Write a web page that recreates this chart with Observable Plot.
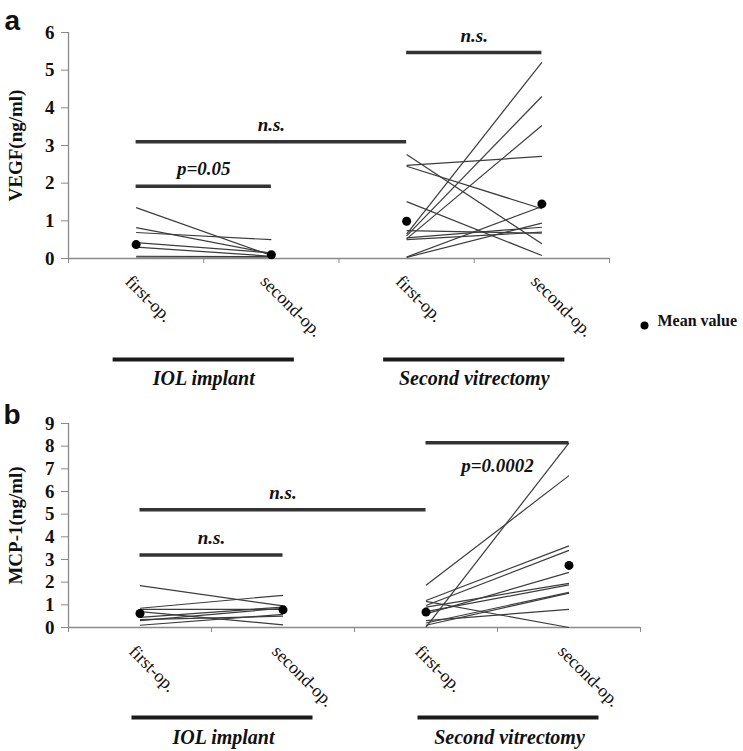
<!DOCTYPE html>
<html><head><meta charset="utf-8">
<script src="https://cdn.jsdelivr.net/npm/d3@7"></script>
<script src="https://cdn.jsdelivr.net/npm/@observablehq/plot@0.6"></script>
<style>body{margin:0;background:#fff;width:743px;height:751px;overflow:hidden} svg{display:block}</style>
</head><body><div id="chart"></div>
<script>
// ---------- data ----------
const categories = ["IOL first-op.", "IOL second-op.", "SV first-op.", "SV second-op."];
const categoryLabels = ["first-op.", "second-op.", "first-op.", "second-op."];
const groupNames = ["IOL implant", "Second vitrectomy"];
const groupFirst = ["IOL first-op.", "SV first-op."];
const groupSecond = ["IOL second-op.", "SV second-op."];

// Panel a: VEGF (ng/ml)
const vegfTicks = [0, 1, 2, 3, 4, 5, 6];
const vegfIolFirst  = [1.35, 0.82, 0.69, 0.42, 0.30, 0.06, 0.04];
const vegfIolSecond = [0.08, 0.13, 0.50, 0.15, 0.06, 0.05, 0.04];
const vegfSvFirst   = [0.65, 0.60, 0.52, 2.47, 2.76, 2.45, 1.51, 0.04, 0.03, 0.55, 0.50, 0.74];
const vegfSvSecond  = [5.21, 4.30, 3.53, 2.71, 0.39, 1.32, 0.08, 1.38, 0.94, 0.83, 0.70, 0.67];
const vegfMeans     = [0.37, 0.10, 0.99, 1.45];
const vegfSigFrom   = ["IOL first-op.", "IOL first-op.", "SV first-op."];
const vegfSigTo     = ["IOL second-op.", "SV first-op.", "SV second-op."];
const vegfSigLevel  = [1.92, 3.10, 5.47];
const vegfSigText   = ["p=0.05", "n.s.", "n.s."];
const vegfSigBelow  = [false, false, false];

// Panel b: MCP-1 (ng/ml)
const mcpTicks = [0, 1, 2, 3, 4, 5, 6, 7, 8, 9];
const mcpIolFirst  = [1.85, 0.85, 0.80, 0.70, 0.45, 0.35, 0.10, 0.30];
const mcpIolSecond = [0.95, 1.42, 0.80, 0.12, 0.90, 0.50, 0.58, 0.85];
const mcpSvFirst   = [0.02, 1.86, 1.19, 0.97, 0.60, 0.90, 0.70, 0.20, 0.30, 1.15, 0.10];
const mcpSvSecond  = [8.15, 6.70, 3.60, 3.40, 2.43, 1.95, 1.88, 1.55, 0.80, 0.00, 1.52];
const mcpMeans     = [0.62, 0.78, 0.68, 2.74];
const mcpSigFrom   = ["IOL first-op.", "IOL first-op.", "SV first-op."];
const mcpSigTo     = ["IOL second-op.", "SV first-op.", "SV second-op."];
const mcpSigLevel  = [3.20, 5.20, 8.15];
const mcpSigText   = ["n.s.", "n.s.", "p=0.0002"];
const mcpSigBelow  = [false, false, true];

const legendText = "Mean value";

// ---------- helpers ----------
const pos = c => categories.indexOf(c) + 0.5;
const SERIF = "Liberation Serif, Times New Roman, serif";
const SANS = "Liberation Sans, Arial, sans-serif";

function pairs(firstCat, secondCat, a, b) {
  return a.map((v, i) => ({x1: pos(firstCat), x2: pos(secondCat), y1: v, y2: b[i]}));
}

function panel(o) {
  const links = [
    ...pairs("IOL first-op.", "IOL second-op.", o.iolFirst, o.iolSecond),
    ...pairs("SV first-op.", "SV second-op.", o.svFirst, o.svSecond)
  ];
  const means = o.means.map((v, i) => ({x: pos(categories[i]), y: v}));
  const sigs = o.sigFrom.map((f, i) => ({x1: pos(f), x2: pos(o.sigTo[i]), y: o.sigLevel[i], text: o.sigText[i], below: o.sigBelow[i]}));
  const groups = groupNames.map((g, i) => ({name: g, x1: pos(groupFirst[i]), x2: pos(groupSecond[i])}));
  const cats = categories.map((c, i) => ({x: pos(c), label: categoryLabels[i]}));

  const marks = [
    // axes
    Plot.ruleX([0], {stroke: "#8a8a8a", strokeWidth: 1.3}),
    Plot.ruleY([0], {stroke: "#8a8a8a", strokeWidth: 1.3}),
    Plot.axisY({ticks: o.ticks, tickSize: 7, stroke: "#8a8a8a", tickFormat: () => ""}),
    Plot.text(o.ticks, {y: d => d, frameAnchor: "left", dx: -14, textAnchor: "end", text: d => String(d),
      fontSize: 19, fontWeight: "bold", fontFamily: SERIF, fill: "#111"}),
    Plot.axisX({ticks: d3.range(0, categories.length + 1), tickSize: 5, stroke: "#8a8a8a", tickFormat: () => ""}),
    Plot.text([o.yLabel], {frameAnchor: "left", dx: o.yLabelDx, rotate: -90, textAnchor: "middle", text: d => d,
      fontSize: 19, fontWeight: "bold", fontFamily: SERIF, fill: "#111"}),
    Plot.text([o.letter], {frameAnchor: "top-left", dx: o.letterDx, dy: o.letterDy, textAnchor: "start", text: d => d,
      fontSize: 28, fontWeight: "bold", fontFamily: SANS, fill: "#111"}),
    // category labels
    Plot.text(cats, {x: "x", frameAnchor: "bottom", text: "label", rotate: 45, textAnchor: "start",
      dx: o.catDx, dy: o.catDy, fontSize: 18, fontFamily: SERIF, fill: "#111"}),
    // group bars and names
    Plot.ruleY(groups, {x1: "x1", x2: "x2", y: () => 0, dy: o.groupBarDy, insetLeft: o.groupInsetLeft, insetRight: o.groupInsetRight,
      stroke: "#1a1a1a", strokeWidth: 4}),
    Plot.text(groups, {x: d => (d.x1 + d.x2) / 2, y: () => 0, dy: o.groupTextDy, dx: o.groupTextDx, text: "name",
      fontSize: 20, fontWeight: "bold", fontStyle: "italic", fontFamily: SERIF, fill: "#111"}),
    // patient lines
    Plot.link(links, {x1: "x1", x2: "x2", y1: "y1", y2: "y2", stroke: "#3c3c3c", strokeWidth: 1.2}),
    // mean dots
    Plot.dot(means, {x: "x", y: "y", r: 4.5, fill: "#000"}),
    // significance bars
    Plot.ruleY(sigs, {x1: "x1", x2: "x2", y: "y", stroke: "#333", strokeWidth: 3.5}),
    Plot.text(sigs.filter(d => !d.below), {x: d => (d.x1 + d.x2) / 2, y: "y", dy: -17, text: "text",
      fontSize: 19, fontWeight: "bold", fontStyle: "italic", fontFamily: SERIF, fill: "#111"}),
    Plot.text(sigs.filter(d => d.below), {x: d => (d.x1 + d.x2) / 2, y: "y", dy: 23, text: "text",
      fontSize: 19, fontWeight: "bold", fontStyle: "italic", fontFamily: SERIF, fill: "#111"})
  ];
  if (o.legend) {
    marks.push(
      Plot.dot([legendText], {frameAnchor: "bottom-right", dx: 35, dy: 67, r: 4, fill: "#000"}),
      Plot.text([legendText], {frameAnchor: "bottom-right", dx: 48, dy: 67, textAnchor: "start", text: d => d,
        fontSize: 16, fontWeight: "bold", fontFamily: SERIF, fill: "#111"})
    );
  }
  return Plot.plot({
    width: 743,
    height: o.height,
    marginTop: o.marginTop,
    marginBottom: o.marginBottom,
    marginLeft: 68,
    marginRight: o.marginRight,
    x: {type: "linear", domain: [0, categories.length]},
    y: {type: "linear", domain: [0, o.ticks[o.ticks.length - 1]]},
    style: {background: "#fff", overflow: "visible"},
    marks
  });
}

const chartA = panel({
  height: 395, marginTop: 32, marginBottom: 137, marginRight: 134,
  ticks: vegfTicks, yLabel: "VEGF(ng/ml)", yLabelDx: -53, letter: "a", letterDx: -64, letterDy: -22,
  iolFirst: vegfIolFirst, iolSecond: vegfIolSecond, svFirst: vegfSvFirst, svSecond: vegfSvSecond,
  means: vegfMeans, sigFrom: vegfSigFrom, sigTo: vegfSigTo, sigLevel: vegfSigLevel, sigText: vegfSigText, sigBelow: vegfSigBelow,
  catDx: -12, catDy: 24, groupBarDy: 101, groupTextDy: 120, groupTextDx: 0, groupInsetLeft: -23, groupInsetRight: -23,
  legend: true
});
const chartB = panel({
  height: 356, marginTop: 28, marginBottom: 124, marginRight: 103,
  ticks: mcpTicks, yLabel: "MCP-1(ng/ml)", yLabelDx: -53, letter: "b", letterDx: -65, letterDy: -19,
  iolFirst: mcpIolFirst, iolSecond: mcpIolSecond, svFirst: mcpSvFirst, svSecond: mcpSvSecond,
  means: mcpMeans, sigFrom: mcpSigFrom, sigTo: mcpSigTo, sigLevel: mcpSigLevel, sigText: mcpSigText, sigBelow: mcpSigBelow,
  catDx: -12, catDy: 25, groupBarDy: 90, groupTextDy: 110, groupTextDx: 12, groupInsetLeft: -8, groupInsetRight: -30,
  legend: false
});
document.getElementById("chart").append(chartA, chartB);
</script>
</body></html>
